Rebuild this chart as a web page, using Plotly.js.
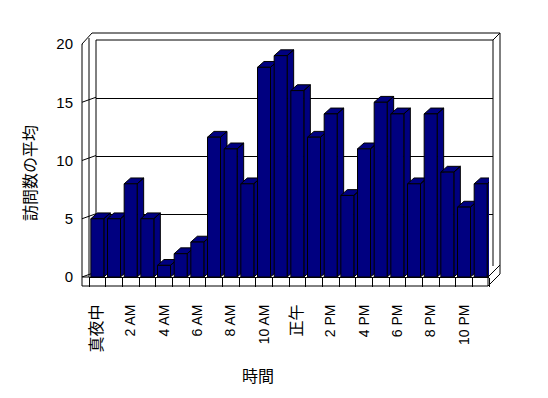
<!DOCTYPE html>
<html><head><meta charset="utf-8">
<script src="https://cdn.plot.ly/plotly-3.0.1.min.js"></script>
<style>html,body{margin:0;padding:0;background:#fff}</style>
</head><body><div id="chart" style="width:548px;height:398px"></div>
<script>
// ---- data ----
const hours = [0,1,2,3,4,5,6,7,8,9,10,11,12,13,14,15,16,17,18,19,20,21,22,23];
const avgVisits = [5,5,8,5,1,2,3,12,11,8,18,19,16,12,14,7,11,15,14,8,14,9,6,8];
const labelHours = [0,2,4,6,8,10,12,14,16,18,20,22];
const hourLabels = ['真夜中','2 AM','4 AM','6 AM','8 AM','10 AM','正午','2 PM','4 PM','6 PM','8 PM','10 PM'];
const yTicks = [0,5,10,15,20];
const yTitle = '訪問数の平均';
const xTitle = '時間';

// ---- geometry / style ----
const W = 548, H = 398;
const px = x => x / W;
const py = y => 1 - y / H;
const NAVY = '#000080';
const FONT = "'Liberation Sans', Arial, 'Noto Sans CJK JP', sans-serif";
const BAR_W = 0.78;      // bar width in category units
const DX = 0.39;         // depth offset (x, category units)
const DY = 0.5;          // depth offset (y, value units)
const RANGE_X = [-0.5, 23.5], RANGE_Y = [0, 20];

const tickText = hourLabels.map(t => /[^\x00-\x7f]/.test(t) ? '<span style="font-size:16px">' + t + '</span>' : t);

// ---- traces ----
const traces = [];
// placeholder for back wall subplot (gridlines)
traces.push({type:'scatter', x:[], y:[], xaxis:'x', yaxis:'y', showlegend:false, hoverinfo:'skip'});
// 3D side + top faces, one trace per bar, drawn left to right
hours.forEach((h, i) => {
  const v = avgVisits[i];
  const l = h - BAR_W/2, r = h + BAR_W/2;
  traces.push({
    type:'scatter', mode:'lines', fill:'toself', fillcolor:NAVY,
    line:{color:'#000', width:1},
    x:[r, r+DX, r+DX, r, r, null, l, r, r+DX, l+DX, l],
    y:[0, DY, v+DY, v, 0, null, v, v, v+DY, v+DY, v],
    xaxis:'x2', yaxis:'y2', showlegend:false, hoverinfo:'skip'
  });
});
// front faces
traces.push({
  type:'bar', x:hours, y:avgVisits, width:BAR_W,
  marker:{color:NAVY, line:{color:'#000', width:1}},
  xaxis:'x3', yaxis:'y3', showlegend:false
});

// ---- walls / floor (decoration) ----
const L = {type:'line', xref:'paper', yref:'paper', layer:'below', line:{color:'#000', width:1}};
const seg = (x0,y0,x1,y1) => Object.assign({}, L, {x0:px(x0), y0:py(y0), x1:px(x1), y1:py(y1)});
const shapes = [
  seg(82,286,82,44), seg(82,44,92,33), seg(92,33,500,33), seg(500,33,500,274), seg(500,274,488,286),
  seg(82,286,488,286), seg(488,286,488,277), seg(82,277,89,277), seg(488,277,500,265),
  seg(89,277,89,38), seg(96,272,96,40), seg(96,40,493,40), seg(493,40,500,33), seg(493,40,493,266)
];
yTicks.forEach(v => shapes.push({type:'line', xref:'paper', yref:'y2', layer:'below',
  x0:px(82), y0:v, x1:px(96), y1:v+0.43, line:{color:'#000', width:1}}));

const layout = {
  width:W, height:H, margin:{l:0, r:0, t:0, b:0},
  paper_bgcolor:'#fff', plot_bgcolor:'rgba(0,0,0,0)',
  font:{family:FONT, size:14, color:'#000'},
  showlegend:false, bargap:0,
  xaxis:{domain:[px(96), px(493)], range:RANGE_X, visible:false, anchor:'y', fixedrange:true},
  yaxis:{domain:[py(272), py(40)], range:RANGE_Y, tickvals:yTicks, showgrid:true, gridcolor:'#000', gridwidth:1,
         showticklabels:false, ticks:'', zeroline:false, showline:false, anchor:'x', fixedrange:true},
  xaxis2:{domain:[px(89), px(489)], range:RANGE_X, anchor:'y2', tickmode:'array', tickvals:labelHours, ticktext:tickText,
          tickangle:-90, ticks:'', showline:true, linecolor:'#000', linewidth:1, showgrid:false, zeroline:false,
          ticklabelstandoff:21, tickfont:{family:FONT, size:14, color:'#000'},
          minor:{tickmode:'linear', tick0:-0.5, dtick:1, ticks:'outside', ticklen:9, tickcolor:'#000', tickwidth:1, showgrid:false},
          fixedrange:true},
  yaxis2:{domain:[py(277), py(44)], range:RANGE_Y, anchor:'free', position:px(82), tickvals:yTicks,
          ticks:'', showline:false, showgrid:false, zeroline:false, ticklabelstandoff:9,
          tickfont:{family:FONT, size:15, color:'#000'}, fixedrange:true},
  xaxis3:{overlaying:'x2', range:RANGE_X, visible:false, anchor:'y3', fixedrange:true},
  yaxis3:{overlaying:'y2', range:RANGE_Y, visible:false, anchor:'x3', fixedrange:true},
  shapes:shapes,
  annotations:[
    {text:yTitle, xref:'paper', yref:'paper', x:px(30), y:py(173), showarrow:false, textangle:-90,
     font:{family:FONT, size:16, color:'#000'}, xanchor:'center', yanchor:'middle'},
    {text:xTitle, xref:'paper', yref:'paper', x:px(258), y:py(376), showarrow:false,
     font:{family:FONT, size:16, color:'#000'}, xanchor:'center', yanchor:'middle'}
  ]
};
Plotly.newPlot('chart', traces, layout, {displayModeBar:false, staticPlot:true});
</script></body></html>
